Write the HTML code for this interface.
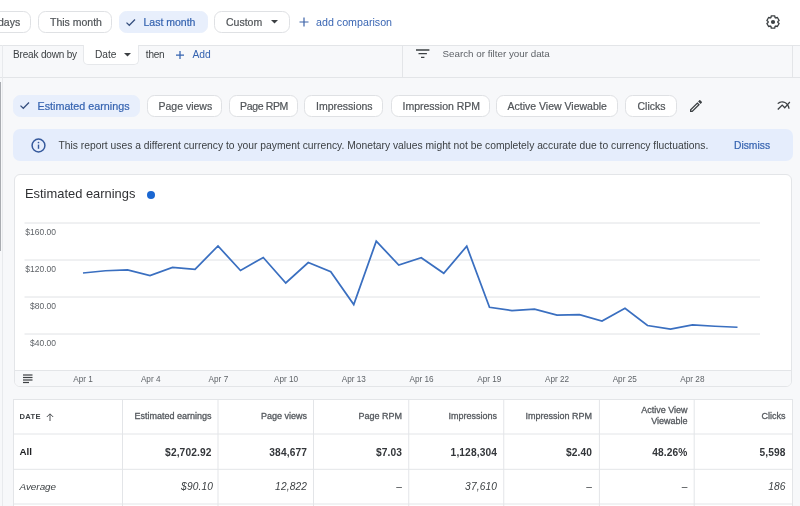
<!DOCTYPE html>
<html><head><meta charset="utf-8">
<style>
*{box-sizing:border-box;margin:0;padding:0}
html,body{width:800px;height:506px;overflow:hidden;background:#fff}
body{position:relative;font-family:"Liberation Sans",Arial,sans-serif;color:#3c4043}
.a{position:absolute;white-space:nowrap}
.chip{position:absolute;height:22px;border:1px solid #dfe1e4;border-radius:7.5px;background:#fff;font-size:10.5px;line-height:21px;color:#505458;-webkit-text-stroke:0.2px #505458;white-space:nowrap}
.chip.sel{background:#e8effc;border-color:#e8effc;color:#3563b0;-webkit-text-stroke:0.2px #3563b0}
.gray{position:absolute;left:0;top:44.6px;width:800px;height:462px;background:#f7f8fa;border-top:1px solid #e3e5e8}
.th{position:absolute;font-size:9px;color:#55595e;-webkit-text-stroke:0.3px #55595e;margin-top:-0.5px;text-align:right;line-height:12px}
.td{position:absolute;font-size:10.2px;color:#33363a;letter-spacing:0.12px;text-align:right}
.b{font-weight:700}
.i{font-style:italic;color:#3c4043}
</style></head><body>
<div id="wrap" style="position:absolute;left:0;top:0;width:800px;height:506px;overflow:hidden;background:#fff;filter:blur(0.3px)">

<!-- top bar -->
<div class="chip" style="left:-50px;top:11px;width:81px;"><span class="a" style="left:15.5px;top:0.3px">Last 7 days</span></div>
<div class="chip" style="left:37.5px;top:11px;width:74.5px;"><span class="a" style="left:11.5px;top:0.3px">This month</span></div>
<div class="chip sel" style="left:119px;top:11px;width:88.5px;">
  <svg class="a" style="left:6.4px;top:5.5px" width="11" height="9" viewBox="0 0 11 9"><path d="M0.5 4.6 L3.3 7.3 L9 1.5" fill="none" stroke="#37507f" stroke-width="1.25"/></svg>
  <span class="a" style="left:23.5px;top:0.3px">Last month</span></div>
<div class="chip" style="left:214px;top:11px;width:75.5px;"><span class="a" style="left:11px;top:0.3px">Custom</span>
  <svg class="a" style="left:56px;top:8px" width="7" height="4" viewBox="0 0 7 4"><path d="M0 0 L7 0 L3.5 3.5Z" fill="#3c4043"/></svg></div>
<svg class="a" style="left:299px;top:17.2px" width="10" height="10" viewBox="0 0 10 10"><path d="M5 0.5 V9.5 M0.5 5 H9.5" stroke="#3d63a8" stroke-width="1.2"/></svg>
<span class="a" style="left:316px;top:16px;font-size:10.7px;color:#3a66b3">add comparison</span>
<svg class="a" style="left:765px;top:14px" width="16" height="16" viewBox="0 0 16 16"><path d="M5.93 3.56 L6.26 1.94 L9.74 1.94 L10.07 3.56 L10.81 3.99 L12.38 3.47 L14.11 6.48 L12.88 7.57 L12.88 8.43 L14.11 9.52 L12.38 12.53 L10.81 12.01 L10.07 12.44 L9.74 14.06 L6.26 14.06 L5.93 12.44 L5.19 12.01 L3.62 12.53 L1.89 9.52 L3.12 8.43 L3.12 7.57 L1.89 6.48 L3.62 3.47 L5.19 3.99Z" fill="none" stroke="#3c4043" stroke-width="1.35" stroke-linejoin="round"/><circle cx="8" cy="8" r="2.1" fill="#3c4043"/></svg>

<!-- gray area -->
<div class="gray"></div>
<div class="a" style="left:0;top:76.5px;width:800px;height:1px;background:#e3e5e8"></div>
<div class="a" style="left:402.4px;top:45px;width:1px;height:32px;background:#e3e5e8"></div>
<div class="a" style="left:792px;top:45px;width:1px;height:32px;background:#e3e5e8"></div>
<div class="a" style="left:0;top:82px;width:1.2px;height:169px;background:#a9acb1"></div>
<div class="a" style="left:2.2px;top:45px;width:1px;height:461px;background:#e8eaed"></div>

<span class="a" style="left:13px;top:48.5px;font-size:10px;letter-spacing:-0.17px;color:#3c4043">Break down by</span>
<div class="a" style="left:83.3px;top:45px;width:56.2px;height:19.5px;background:#fff;border:1px solid #e6e8eb;border-top:none;border-radius:0 0 5px 5px"></div>
<span class="a" style="left:95px;top:48.8px;font-size:10.2px;color:#3c4043">Date</span>
<svg class="a" style="left:124px;top:52.5px" width="7" height="4" viewBox="0 0 7 4"><path d="M0 0 L7 0 L3.5 3.5Z" fill="#3c4043"/></svg>
<span class="a" style="left:145.8px;top:49px;font-size:10px;letter-spacing:-0.2px;color:#3c4043">then</span>
<svg class="a" style="left:176.2px;top:50.5px" width="8" height="8" viewBox="0 0 8 8"><path d="M4 0 V8 M0 4 H8" stroke="#3563b0" stroke-width="1.25"/></svg>
<span class="a" style="left:192.5px;top:48.5px;font-size:10.3px;color:#3563b0">Add</span>

<svg class="a" style="left:416px;top:49px" width="14" height="10" viewBox="0 0 14 10"><path d="M0 1 H13.4 M2.5 4.6 H10.9 M5 8.3 H8.4" stroke="#3c4043" stroke-width="1.3"/></svg>
<span class="a" style="left:442.5px;top:47.5px;font-size:9.8px;color:#5f6368">Search or filter your data</span>

<!-- metric chips -->
<div class="chip sel" style="left:13px;top:94.5px;width:127px;">
  <svg class="a" style="left:6.4px;top:5.5px" width="11" height="9" viewBox="0 0 11 9"><path d="M0.5 4.6 L3.3 7.3 L9 1.5" fill="none" stroke="#37507f" stroke-width="1.25"/></svg>
  <span class="a" style="left:23.5px;top:0;font-size:10.75px">Estimated earnings</span></div>
<div class="chip" style="left:147px;top:94.5px;width:75px;"><span class="a" style="left:10.5px;top:0">Page views</span></div>
<div class="chip" style="left:228.5px;top:94.5px;width:69.5px;"><span class="a" style="left:10.5px;top:0;letter-spacing:-0.35px">Page RPM</span></div>
<div class="chip" style="left:304px;top:94.5px;width:79px;"><span class="a" style="left:11px;top:0">Impressions</span></div>
<div class="chip" style="left:391px;top:94.5px;width:98.5px;"><span class="a" style="left:10.5px;top:0">Impression RPM</span></div>
<div class="chip" style="left:495.5px;top:94.5px;width:122.5px;"><span class="a" style="left:11px;top:0">Active View Viewable</span></div>
<div class="chip" style="left:625px;top:94.5px;width:51.5px;"><span class="a" style="left:11.5px;top:0">Clicks</span></div>
<svg class="a" style="left:688px;top:98px" width="16" height="16" viewBox="0 0 24 24"><path fill="#3c4043" d="M3 17.25V21h3.75L17.81 9.94l-3.75-3.75L3 17.25zM5.92 19H5v-.92l9.06-9.06.92.92L5.92 19zM20.71 5.63l-2.34-2.34c-.2-.2-.45-.29-.71-.29s-.51.1-.7.29l-1.83 1.83 3.75 3.75 1.83-1.83c.39-.39.39-1.02 0-1.41z"/></svg>
<svg class="a" style="left:776.2px;top:97.7px" width="15.6" height="15.6" viewBox="0 0 24 24"><path fill="#3c4043" d="M22 6.92l-1.41-1.41-2.85 3.21C15.68 6.4 12.83 5 9.61 5 6.72 5 4.07 6.16 2 8l1.42 1.42C5.12 7.930 7.27 7 9.61 7c2.74 0 5.09 1.26 6.770 3.24l-2.88 3.24-4-4L2 16.99l1.5 1.5 6-6.01 4 4 4.05-4.55c.75 1.35 1.25 2.9 1.44 4.55H21c-.22-2.3-.95-4.39-2.04-6.14L22 6.92z"/></svg>

<!-- info banner -->
<div class="a" style="left:13px;top:128.8px;width:779.5px;height:32.4px;background:#e5edfc;border-radius:7px"></div>
<svg class="a" style="left:30.8px;top:138.1px" width="15" height="15" viewBox="0 0 15 15"><circle cx="7.5" cy="7.5" r="6.4" fill="none" stroke="#35599c" stroke-width="1.5"/><path d="M7.5 6.6 V10.8" stroke="#35599c" stroke-width="1.4"/><circle cx="7.5" cy="4.5" r="0.85" fill="#35599c"/></svg>
<span class="a" style="left:58.5px;top:140px;font-size:10.3px;color:#3c4043">This report uses a different currency to your payment currency. Monetary values might not be completely accurate due to currency fluctuations.</span>
<span class="a" style="left:734px;top:140px;font-size:10.3px;color:#3563b0;-webkit-text-stroke:0.2px #3563b0">Dismiss</span>

<!-- chart card -->
<div class="a" style="left:14px;top:173.5px;width:778px;height:213px;background:#fff;border:1px solid #e3e5e8;border-radius:6px;overflow:hidden">
  <div class="a" style="left:0;top:195.5px;width:778px;height:16px;background:#f7f8fa;border-top:1px solid #e3e5e8"></div>
</div>
<span class="a" style="left:25px;top:185.5px;font-size:12.9px;color:#303134">Estimated earnings</span>
<div class="a" style="left:146.5px;top:190.5px;width:8.5px;height:8.5px;border-radius:50%;background:#1a67d2"></div>

<svg class="a" style="left:0;top:0" width="800" height="506" viewBox="0 0 800 506">
  <g stroke="#e0e2e5" stroke-width="1">
    <line x1="24.5" y1="223" x2="760" y2="223"/>
    <line x1="24.5" y1="260" x2="760" y2="260"/>
    <line x1="24.5" y1="297" x2="760" y2="297"/>
    <line x1="24.5" y1="334" x2="760" y2="334"/>
  </g>
  <polyline fill="none" stroke="#3a6fc0" stroke-width="1.75" stroke-linejoin="miter" points="83,273 105.5,270.75 127.5,270 150,275.5 172.5,267.5 195,269.25 218,246 240.5,270.5 263.25,257.5 285.75,283 308.25,262.5 330.75,271.75 353.75,304.5 376.25,241.25 398.75,265 421.25,257.75 443.75,273.25 466.75,246.25 489.5,307.25 512,310.5 534.5,309.25 557,315 579.5,314.75 602,321 625,308.25 647.5,325.5 670.5,329 692.5,325 715,326.25 737.5,327.25"/>
  <g font-family="Liberation Sans, Arial, sans-serif" font-size="8.5" fill="#5f6368" text-anchor="end">
    <text x="56" y="235">$160.00</text>
    <text x="56" y="272">$120.00</text>
    <text x="56" y="309">$80.00</text>
    <text x="56" y="346">$40.00</text>
  </g>
  <g font-family="Liberation Sans, Arial, sans-serif" font-size="8.2" fill="#5f6368" text-anchor="middle">
    <text x="83" y="382">Apr 1</text>
    <text x="150.7" y="382">Apr 4</text>
    <text x="218.4" y="382">Apr 7</text>
    <text x="286.1" y="382">Apr 10</text>
    <text x="353.8" y="382">Apr 13</text>
    <text x="421.5" y="382">Apr 16</text>
    <text x="489.3" y="382">Apr 19</text>
    <text x="557" y="382">Apr 22</text>
    <text x="624.7" y="382">Apr 25</text>
    <text x="692.4" y="382">Apr 28</text>
  </g>
  <g stroke="#3c4043" stroke-width="1.2">
    <line x1="23" y1="375" x2="32.5" y2="375"/>
    <line x1="23" y1="377.5" x2="32.5" y2="377.5"/>
    <line x1="23" y1="380" x2="32.5" y2="380"/>
    <line x1="23" y1="382.5" x2="29" y2="382.5"/>
  </g>
</svg>

<!-- table -->
<div class="a" style="left:13px;top:398.5px;width:779.5px;height:120px;background:#fff;border:1px solid #e3e5e8"></div>
<svg class="a" style="left:0;top:0" width="800" height="506" viewBox="0 0 800 506">
  <g stroke="#e3e5e8" stroke-width="1">
    <line x1="13.5" y1="434" x2="792" y2="434"/>
    <line x1="13.5" y1="469.3" x2="792" y2="469.3"/>
    <line x1="13.5" y1="504" x2="792" y2="504"/>
    <line x1="122.5" y1="399" x2="122.5" y2="506"/>
    <line x1="218" y1="399" x2="218" y2="506"/>
    <line x1="313.5" y1="399" x2="313.5" y2="506"/>
    <line x1="408.75" y1="399" x2="408.75" y2="506"/>
    <line x1="503.75" y1="399" x2="503.75" y2="506"/>
    <line x1="599.4" y1="399" x2="599.4" y2="506"/>
    <line x1="694.2" y1="399" x2="694.2" y2="506"/>
  </g>
</svg>
<span class="a b" style="left:19.5px;top:411.5px;font-size:7.6px;letter-spacing:0.3px;color:#3c4043">DATE</span>
<svg class="a" style="left:46px;top:413px" width="8" height="8" viewBox="0 0 8 8"><path d="M4 8 V1 M0.8 4 L4 0.8 L7.2 4" fill="none" stroke="#3c4043" stroke-width="0.9"/></svg>

<div class="th" style="right:588.5px;top:410.5px">Estimated earnings</div>
<div class="th" style="right:493px;top:410.5px">Page views</div>
<div class="th" style="right:398px;top:410.5px">Page RPM</div>
<div class="th" style="right:303px;top:410.5px">Impressions</div>
<div class="th" style="right:208px;top:410.5px">Impression RPM</div>
<div class="th" style="right:112.5px;top:405.3px;line-height:11.5px">Active View<br>Viewable</div>
<div class="th" style="right:14.5px;top:410.5px">Clicks</div>

<span class="a b" style="left:19.5px;top:446px;font-size:9.8px;color:#202124">All</span>
<div class="td b" style="right:588.5px;top:446.8px">$2,702.92</div>
<div class="td b" style="right:493px;top:446.8px">384,677</div>
<div class="td b" style="right:398px;top:446.8px">$7.03</div>
<div class="td b" style="right:303px;top:446.8px">1,128,304</div>
<div class="td b" style="right:208px;top:446.8px">$2.40</div>
<div class="td b" style="right:112.5px;top:446.8px">48.26%</div>
<div class="td b" style="right:14.5px;top:446.8px">5,598</div>

<span class="a i" style="left:19.5px;top:481px;font-size:9.9px">Average</span>
<div class="td i" style="right:587px;top:481px">$90.10</div>
<div class="td i" style="right:493px;top:481px">12,822</div>
<div class="td i" style="right:398px;top:481px">–</div>
<div class="td i" style="right:303px;top:481px">37,610</div>
<div class="td i" style="right:208px;top:481px">–</div>
<div class="td i" style="right:112.5px;top:481px">–</div>
<div class="td i" style="right:14.5px;top:481px">186</div>

</div>
</body></html>
